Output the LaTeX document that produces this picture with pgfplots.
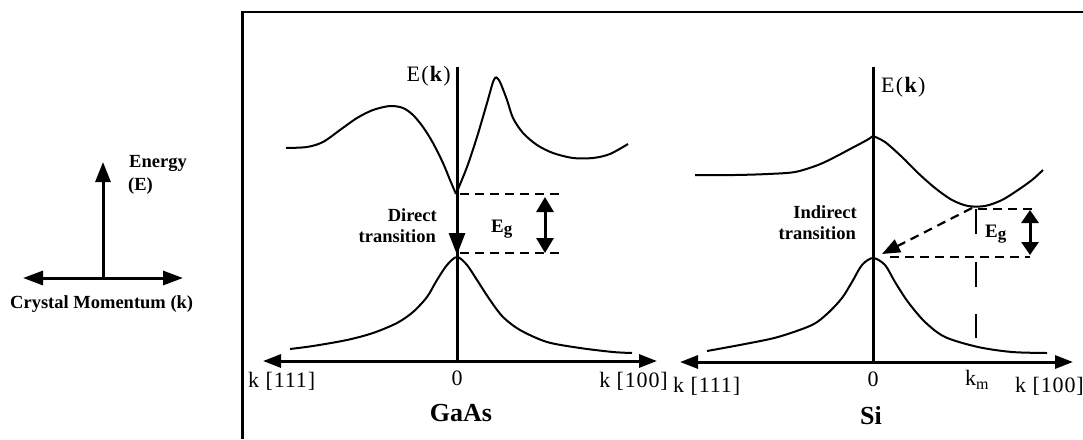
\documentclass[border=0pt]{standalone}
\usepackage{fontspec}
\setmainfont{Liberation Serif}
\usepackage{pgfplots}
\pgfplotsset{compat=1.18}
\usetikzlibrary{arrows.meta}
\newcommand{\bt}{\fontsize{18.5}{20}\selectfont\bfseries}
\newcommand{\rt}{\fontsize{22}{24}\selectfont\addfontfeature{LetterSpace=4}}
\newcommand{\Eg}{\fontsize{19}{20}\selectfont\bfseries E\raisebox{-0.3ex}{\fontsize{17}{17}\selectfont g}}
\begin{document}
\begin{tikzpicture}
\begin{axis}[name=ax, scale only axis, width=1083pt, height=439pt,
  xmin=0, xmax=1083, ymin=0, ymax=439, y dir=reverse, hide axis, clip=false]

% frame
\addplot[black, line width=2.5pt] coordinates {(242.5,439) (242.5,12) (1083,12)};

% ---- legend of axes ----
\addplot[black, line width=3pt, -{Triangle[length=20pt,width=15pt]}] coordinates {(103,279) (103,162)};
\addplot[black, line width=3pt, {Triangle[length=20pt,width=14pt]}-{Triangle[length=20pt,width=14pt]}] coordinates {(23,278) (183,278)};
\node[anchor=base west, inner sep=0pt] at (axis cs:129,167) {\bt Energy};
\node[anchor=base west, inner sep=0pt] at (axis cs:128,190) {\bt (E)};
\node[anchor=base west, inner sep=0pt] at (axis cs:10,308) {\bt Crystal Momentum (k)};

% ---- GaAs ----
\addplot[black, line width=3pt, {Triangle[length=18pt,width=13pt]}-{Triangle[length=18pt,width=13pt]}] coordinates {(263,361) (657,361)};
\addplot[black, line width=3pt] coordinates {(457,362) (457,67)};
% conduction band
\addplot[black, line width=2pt, smooth] coordinates {(286,148) (307,147) (323,142) (340,130) (357,118) (373,110) (390,106) (403,108) (413,115) (423,127) (433,143) (443,163) (450,180) (456,194)};
\addplot[black, line width=2pt, smooth] coordinates {(456,194) (467,167) (477,137) (487,103) (493,82) (496,77)};
\addplot[black, line width=2pt, smooth] coordinates {(496,77) (500,82) (507,100) (513,118) (523,133) (537,145) (553,153) (573,158) (593,158) (610,154) (628,144)};
% valence band
\addplot[black, line width=2pt, smooth] coordinates {(290,349) (313,346) (347,340) (373,333) (397,323) (413,312) (427,297) (437,280) (447,265) (457,257) (467,265) (477,280) (490,300) (503,317) (520,330) (547,342) (580,348) (613,352) (632,353)};
% gap markers
\addplot[black, line width=2.2pt, dash pattern=on 9pt off 6pt] coordinates {(460,194) (563,194)};
\addplot[black, line width=2.2pt, dash pattern=on 9pt off 6pt] coordinates {(460,253) (563,253)};
\addplot[black, line width=3pt, {Triangle[length=15pt,width=17pt]}-{Triangle[length=15pt,width=17pt]}] coordinates {(545,197) (545,253)};
\addplot[black, line width=3pt, -{Triangle[length=22pt,width=16pt]}] coordinates {(457,196) (457,255)};
\node[anchor=base east, inner sep=0pt] at (axis cs:437,221) {\bt Direct};
\node[anchor=base east, inner sep=0pt] at (axis cs:436,242) {\bt transition};
\node[anchor=base west, inner sep=0pt] at (axis cs:491,232) {\Eg};
\node[anchor=base east, inner sep=0pt] at (axis cs:451,81) {\fontsize{22}{24}\selectfont\addfontfeature{LetterSpace=6}E(\textbf{k})};
\node[anchor=base west, inner sep=0pt] at (axis cs:248,387) {\rt k [111]};
\node[anchor=base, inner sep=0pt] at (axis cs:457,385) {\rt 0};
\node[anchor=base east, inner sep=0pt] at (axis cs:668,387) {\rt k [100]};
\node[anchor=base, inner sep=0pt] at (axis cs:461,421) {\fontsize{26}{28}\selectfont\bfseries GaAs};

% ---- Si ----
\addplot[black, line width=3pt, {Triangle[length=18pt,width=13pt]}-{Triangle[length=18pt,width=13pt]}] coordinates {(680,362) (1073,362)};
\addplot[black, line width=3pt] coordinates {(873,363) (873,67)};
\addplot[black, line width=2pt, smooth] coordinates {(695,175) (735,175) (768,174) (795,172) (818,165) (835,157) (852,148) (867,140) (873,136)};
\addplot[black, line width=2pt, smooth] coordinates {(873,136) (885,142) (902,157) (918,173) (935,188) (952,200) (968,206) (985,206) (1002,200) (1018,190) (1032,180) (1043,170)};
\addplot[black, line width=2pt, smooth] coordinates {(707,351) (745,344) (778,337) (812,325) (828,313) (842,298) (852,282) (862,265) (873,258) (885,265) (895,282) (908,302) (925,322) (945,337) (978,347) (1012,352) (1047,353)};
\addplot[black, line width=2.2pt, dash pattern=on 9pt off 6pt] coordinates {(978,209) (1032,209)};
\addplot[black, line width=2.2pt, dash pattern=on 9pt off 6pt] coordinates {(890,257) (1030,257)};
\addplot[black, line width=2.2pt, dash pattern=on 25pt off 27.5pt] coordinates {(976,209) (976,338)};
\addplot[black, line width=3pt, {Triangle[length=13pt,width=17pt]}-{Triangle[length=13pt,width=17pt]}] coordinates {(1030,210) (1030,255)};
\addplot[black, line width=2.2pt, dash pattern=on 9pt off 6pt, -{Triangle[length=18pt,width=14pt]}] coordinates {(972,208) (882,254)};
\node[anchor=base east, inner sep=0pt] at (axis cs:857,218) {\bt Indirect};
\node[anchor=base east, inner sep=0pt] at (axis cs:856,239) {\bt transition};
\node[anchor=base west, inner sep=0pt] at (axis cs:985,237) {\Eg};
\node[anchor=base west, inner sep=0pt] at (axis cs:881,92) {\fontsize{22}{24}\selectfont\addfontfeature{LetterSpace=6}E(\textbf{k})};
\node[anchor=base west, inner sep=0pt] at (axis cs:673,392) {\rt k [111]};
\node[anchor=base, inner sep=0pt] at (axis cs:873,386) {\rt 0};
\node[anchor=base west, inner sep=0pt] at (axis cs:965,385) {\rt k\raisebox{-0.4ex}{\fontsize{16}{16}\selectfont m}};
\node[anchor=base west, inner sep=0pt] at (axis cs:1015,392) {\rt k [100]};
\node[anchor=base, inner sep=0pt] at (axis cs:871,424) {\fontsize{26}{28}\selectfont\bfseries Si};
\end{axis}
\pgfresetboundingbox
\useasboundingbox (ax.south west) rectangle (ax.north east);
\end{tikzpicture}
\end{document}
